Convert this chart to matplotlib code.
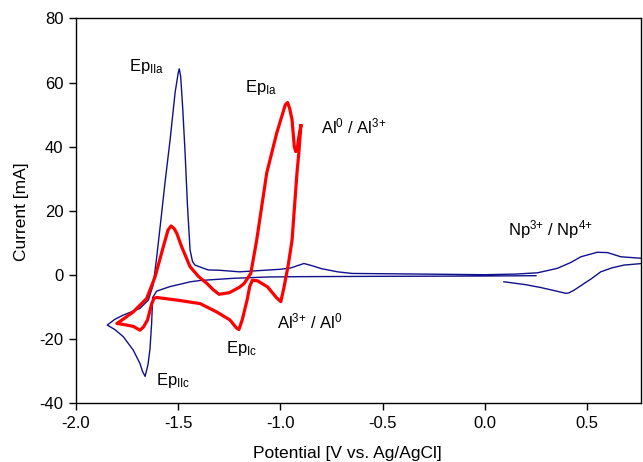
import matplotlib
matplotlib.use("Agg")
import matplotlib.pyplot as plt  # type: ignore

# Blue trace: main sweep (starts near +0.25 V, goes cathodic, then back out to +0.77 V)
blue_v = [0.25, 0.0, -0.5, -0.9, -1.06, -1.226, -1.393, -1.44, -1.54, -1.605,
          -1.625, -1.63, -1.638, -1.648, -1.662, -1.675, -1.687, -1.72, -1.769, -1.81,
          -1.847, -1.81, -1.769, -1.687, -1.646, -1.622, -1.605, -1.585, -1.565, -1.54,
          -1.515, -1.5, -1.495, -1.488, -1.478, -1.467, -1.455, -1.442, -1.43, -1.418,
          -1.38, -1.353, -1.3, -1.2, -1.1, -1.0, -0.95, -0.885, -0.85, -0.8,
          -0.72, -0.65, -0.3, 0.0, 0.15, 0.258, 0.355, 0.42, 0.47, 0.55,
          0.6, 0.665, 0.77]
blue_i = [-0.2, -0.3, -0.4, -0.5, -0.6, -1.0, -1.7, -2.1, -3.6, -5.0,
          -7.0, -15.0, -23.0, -28.0, -31.6, -30.0, -27.6, -23.4, -19.2, -17.0,
          -15.6, -13.8, -12.5, -10.4, -7.8, -3.0, 5.7, 17.0, 28.6, 42.0,
          57.0, 63.0, 64.3, 62.0, 52.0, 39.0, 22.0, 7.8, 4.2, 3.1,
          2.2, 1.6, 1.5, 1.0, 1.4, 1.8, 2.2, 3.6, 3.0, 2.0,
          1.0, 0.5, 0.3, 0.1, 0.3, 0.7, 2.1, 3.9, 5.7, 7.1,
          7.0, 5.7, 5.2]

# Blue trace: return branch through the Np(III)/Np(IV) couple
blue_np_v = [0.77, 0.68, 0.62, 0.567, 0.52, 0.47, 0.437, 0.41, 0.396, 0.35,
             0.274, 0.2, 0.093]
blue_np_i = [3.6, 3.1, 2.2, 1.0, -1.2, -3.3, -4.7, -5.6, -5.7, -5.0,
             -3.9, -3.0, -2.1]

# Red trace: Al couple
red_v = [-0.90, -0.91, -0.919, -0.943, -0.962, -0.982, -0.998, -1.02, -1.063, -1.112,
         -1.137, -1.15, -1.163, -1.187, -1.203, -1.215, -1.247, -1.312, -1.393, -1.507,
         -1.605, -1.618, -1.63, -1.65, -1.67, -1.687, -1.72, -1.76, -1.80, -1.77,
         -1.72, -1.654, -1.613, -1.573, -1.55, -1.535, -1.52, -1.507, -1.483, -1.442,
         -1.4, -1.36, -1.33, -1.30, -1.25, -1.2, -1.177, -1.145, -1.116, -1.067,
         -1.018, -0.976, -0.965, -0.955, -0.943, -0.932, -0.925, -0.919, -0.91, -0.90]
red_i = [46.5, 38.0, 31.8, 10.9, 3.0, -3.7, -8.3, -7.0, -3.7, -1.8,
         -1.6, -3.5, -7.8, -14.0, -17.0, -16.5, -14.0, -11.5, -8.9, -7.8,
         -7.0, -7.2, -9.0, -14.0, -16.2, -17.2, -16.0, -15.5, -15.1, -13.8,
         -11.5, -7.3, -0.5, 8.8, 14.0, 15.3, 14.5, 13.0, 8.8, 2.6,
         -0.5, -2.6, -4.5, -6.0, -5.5, -3.8, -2.6, 0.5, 10.9, 31.8,
         44.3, 53.1, 53.8, 52.0, 48.4, 40.0, 38.5, 39.0, 43.0, 46.5]

x_ticks = [-2.0, -1.5, -1.0, -0.5, 0.0, 0.5]
y_ticks = [-40, -20, 0, 20, 40, 60, 80]

# label text, potential [V], current [mA]
# "{+}" keeps mathtext from padding the plus sign like a binary operator
annotations = [
    (r"Ep$_{IIa}$", -1.741, 63.5),
    (r"Ep$_{Ia}$", -1.173, 57.0),
    (r"Al$^{0}$ / Al$^{3{+}}$", -0.802, 44.3),
    (r"Al$^{3{+}}$ / Al$^{0}$", -1.018, -16.6),
    (r"Ep$_{Ic}$", -1.266, -24.4),
    (r"Ep$_{IIc}$", -1.609, -34.3),
    (r"Np$^{3{+}}$ / Np$^{4{+}}$", 0.111, 12.25),
]

plt.rcParams["font.family"] = ["Liberation Sans", "DejaVu Sans"]
plt.rcParams["mathtext.default"] = "regular"
plt.rcParams["axes.unicode_minus"] = False

fig = plt.figure(figsize=(6.43, 4.62), dpi=100)
ax = fig.add_axes([0.1182, 0.127, 0.8787, 0.833])

blue = "#10108a"
ax.plot(blue_v, blue_i, color=blue, lw=1.0)
ax.plot(blue_np_v, blue_np_i, color=blue, lw=1.0)
ax.plot(red_v, red_i, color="#ff0000", lw=2.3)

for text, v, i in annotations:
    ax.text(v, i, text, fontsize=12, ha="left", va="baseline")

ax.set_xlim(-2.0, 0.764)
ax.set_ylim(-40, 80)
ax.set_xticks(x_ticks)
ax.set_xticklabels([f"{t:.1f}" for t in x_ticks])
ax.set_yticks(y_ticks)
ax.tick_params(direction="out", length=5, width=1, labelsize=12, pad=4)

for spine in ax.spines.values():
    spine.set_linewidth(1.0)

ax.set_xlabel("Potential [V vs. Ag/AgCl]", fontsize=12.5)
ax.set_ylabel("Current [mA]", fontsize=12.5)
# ylabel anchor is the right edge of the rotated text
ax.xaxis.set_label_coords(0.48, -0.112)
ax.yaxis.set_label_coords(-0.083, 0.498)

fig.savefig("out.png", dpi=100)
plt.close(fig)
